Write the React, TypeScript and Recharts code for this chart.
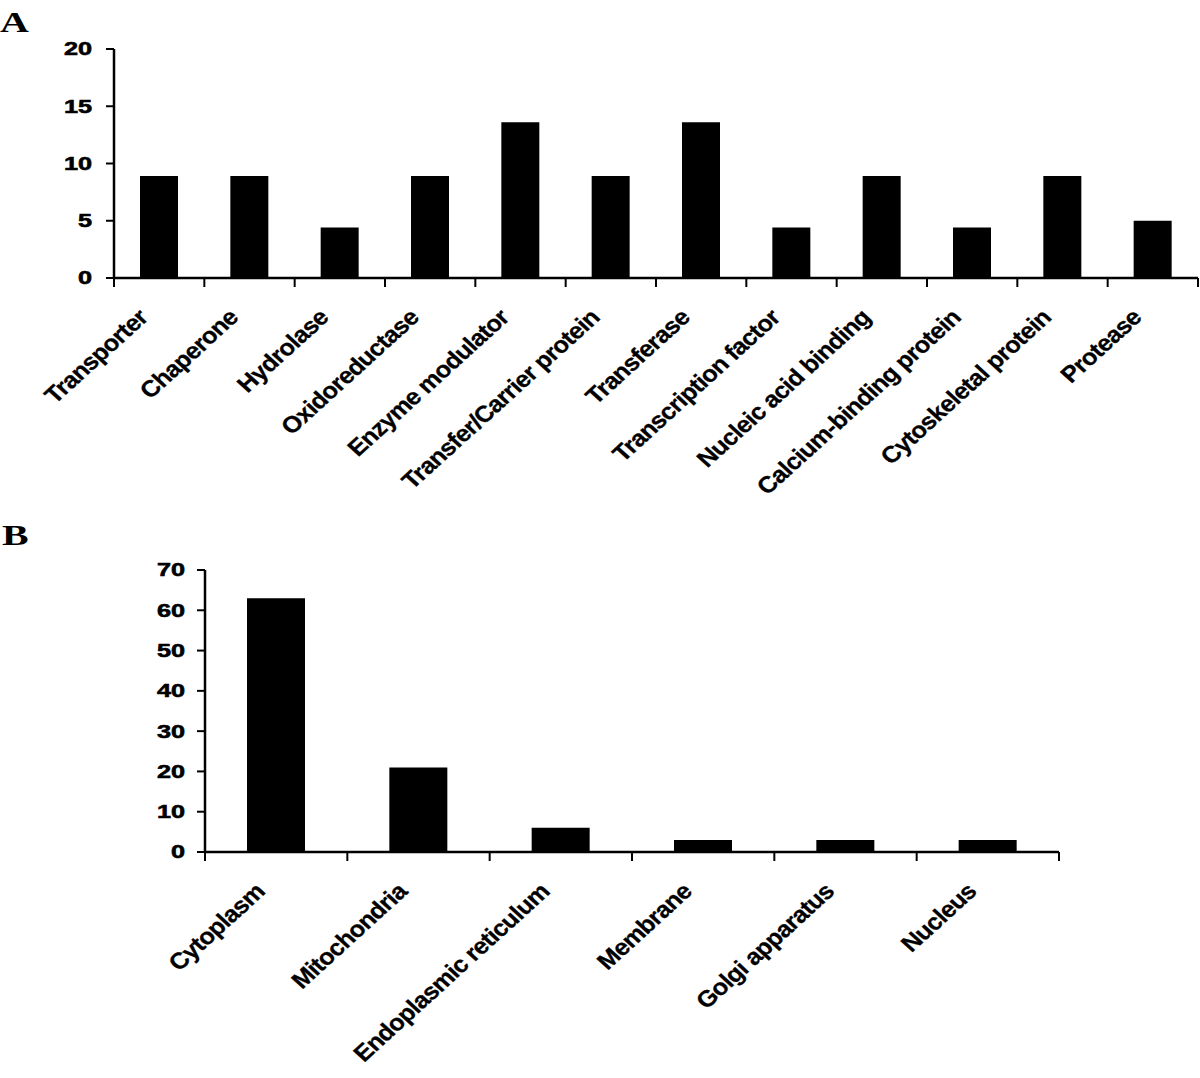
import { BarChart, Bar, XAxis, YAxis } from "recharts";

// panel A: molecular function
const funcCategories = [
    "Transporter", "Chaperone", "Hydrolase", "Oxidoreductase", "Enzyme modulator",
    "Transfer/Carrier protein", "Transferase", "Transcription factor",
    "Nucleic acid binding", "Calcium-binding protein", "Cytoskeletal protein", "Protease",
];
const funcValues = [8.9, 8.9, 4.4, 8.9, 13.6, 8.9, 13.6, 4.4, 8.9, 4.4, 8.9, 5.0];
const funcTicks = [0, 5, 10, 15, 20];

// panel B: subcellular location
const locCategories = [
    "Cytoplasm", "Mitochondria", "Endoplasmic reticulum", "Membrane", "Golgi apparatus", "Nucleus",
];
const locValues = [63, 21, 6, 3, 3, 3];
const locTicks = [0, 10, 20, 30, 40, 50, 60, 70];

const FONT = '"Liberation Sans", Arial, sans-serif';
const STRETCH = 1.33;
const LABEL_STRETCH = 1.1;

const funcData = funcCategories.map((name, i) => ({ name, value: funcValues[i] }));
const locData = locCategories.map((name, i) => ({ name, value: locValues[i] }));

function YTick({ x, y, payload }: any) {
    return (
        <text
            transform={`translate(${x},${y}) scale(${STRETCH},1)`}
            textAnchor="end"
            dominantBaseline="central"
            fontFamily={FONT}
            fontWeight="bold"
            fontSize={19}
            fill="#000"
            stroke="#000"
            strokeWidth={0.6}
        >
            {payload.value}
        </text>
    );
}

function makeXTick(band: number, count: number) {
    return function XTick({ x, y, payload, index }: any) {
        return (
            <g>
                <line x1={x - band / 2} x2={x - band / 2} y1={y} y2={y + 9} stroke="#000" strokeWidth={2} />
                {index === count - 1 && (
                    <line x1={x + band / 2} x2={x + band / 2} y1={y} y2={y + 9} stroke="#000" strokeWidth={2} />
                )}
                <text
                    transform={`translate(${x - 10},${y + 41}) scale(${LABEL_STRETCH},1) rotate(-45)`}
                    textAnchor="end"
                    fontFamily={FONT}
                    fontWeight="bold"
                    fontSize={23}
                    letterSpacing={-0.6}
                    fill="#000"
                    stroke="#000"
                    strokeWidth={0.3}
                >
                    {payload.value}
                </text>
            </g>
        );
    };
}

const panelLetter = (top: number, left: number, text: string) => (
    <div
        style={{
            position: "absolute", top, left,
            fontFamily: '"Liberation Serif", "Times New Roman", serif',
            fontWeight: "bold", fontSize: 30, lineHeight: 1,
            transform: `scaleX(${STRETCH})`, transformOrigin: "left top",
        }}
    >
        {text}
    </div>
);

export default function App() {
    const bandA = (1200 - 114 - 2) / funcCategories.length;
    const bandB = (1200 - 205 - 141) / locCategories.length;

    return (
        <div style={{ position: "absolute", left: 0, top: 0, width: 1200, height: 1078, background: "#fff" }}>
            {panelLetter(7, 0, "A")}
            {panelLetter(520, 2, "B")}

            <div style={{ position: "absolute", left: 0, top: 0 }}>
                <BarChart width={1200} height={540} data={funcData} margin={{ top: 49, right: 2, bottom: 0, left: 0 }}>
                    <XAxis
                        dataKey="name"
                        interval={0}
                        height={262}
                        tickLine={false}
                        tickSize={0}
                        tickMargin={0}
                        axisLine={{ stroke: "#000", strokeWidth: 2.5 }}
                        tick={makeXTick(bandA, funcCategories.length)}
                    />
                    <YAxis
                        width={114}
                        domain={[0, 20]}
                        ticks={funcTicks}
                        interval={0}
                        tickSize={8}
                        tickMargin={14}
                        tickLine={{ stroke: "#000", strokeWidth: 2 }}
                        axisLine={{ stroke: "#000", strokeWidth: 2.5 }}
                        tick={<YTick />}
                    />
                    <Bar dataKey="value" fill="#000" barSize={38} isAnimationActive={false} />
                </BarChart>
            </div>

            <div style={{ position: "absolute", left: 0, top: 540 }}>
                <BarChart width={1200} height={538} data={locData} margin={{ top: 30, right: 141, bottom: 0, left: 0 }}>
                    <XAxis
                        dataKey="name"
                        interval={0}
                        height={226}
                        tickLine={false}
                        tickSize={0}
                        tickMargin={0}
                        axisLine={{ stroke: "#000", strokeWidth: 2.5 }}
                        tick={makeXTick(bandB, locCategories.length)}
                    />
                    <YAxis
                        width={205}
                        domain={[0, 70]}
                        ticks={locTicks}
                        interval={0}
                        tickSize={8}
                        tickMargin={12}
                        tickLine={{ stroke: "#000", strokeWidth: 2 }}
                        axisLine={{ stroke: "#000", strokeWidth: 2.5 }}
                        tick={<YTick />}
                    />
                    <Bar dataKey="value" fill="#000" barSize={58} isAnimationActive={false} />
                </BarChart>
            </div>
        </div>
    );
}
